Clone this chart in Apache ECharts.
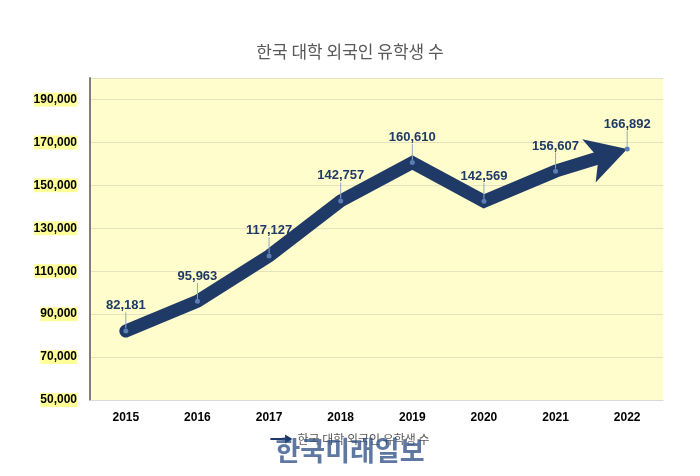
<!DOCTYPE html>
<html><head><meta charset="utf-8">
<script src="https://cdn.jsdelivr.net/npm/echarts@6/dist/echarts.min.js"></script>
<style>html,body{margin:0;padding:0;background:#fff}#c{width:700px;height:476px}</style>
</head><body><div id="c"></div>
<script>
const title = '한국 대학 외국인 유학생 수';
const years = ['2015','2016','2017','2018','2019','2020','2021','2022'];
const students = [82181, 95963, 117127, 142757, 160610, 142569, 156607, 166892];
const yMin = 50000, yMax = 200000, yStep = 20000;
const watermark = '한국미래일보';

const navy = '#1f3a66';
const chart = echarts.init(document.getElementById('c'));
const n = years.length;
const fmt = v => v.toLocaleString('en-US');
chart.setOption({
  animation: false,
  backgroundColor: '#ffffff',
  title: { text: title, left: 'center', top: 38, textStyle: { fontFamily: 'Noto Sans CJK KR', fontSize: 17, fontWeight: 'normal', color: '#595959' } },
  legend: { bottom: 26, left: 'center', itemWidth: 22, itemHeight: 10, icon: 'path://M0,4 L16,4 L16,0 L24,5 L16,10 L16,6 L0,6 Z',
    textStyle: { fontFamily: 'Noto Sans CJK KR', fontSize: 12, color: '#595959' }, data: [{ name: title, itemStyle: { color: navy } }] },
  grid: { left: 90, right: 37, top: 78, bottom: 76, show: true, backgroundColor: '#fffdcc', borderWidth: 0 },
  xAxis: { type: 'category', data: years, boundaryGap: true,
    axisLine: { show: true, lineStyle: { color: '#d9d9d9' } }, axisTick: { show: false },
    axisLabel: { color: '#000', fontWeight: 'bold', fontSize: 12, margin: 12, fontFamily: 'Liberation Sans' } },
  yAxis: { type: 'value', min: yMin, max: yMax, interval: yStep,
    axisLine: { show: true, lineStyle: { color: '#7f7f7f', width: 2 } }, axisTick: { show: false },
    splitLine: { lineStyle: { color: '#e6e2c0' } },
    axisLabel: { showMaxLabel: false, color: '#000', fontWeight: 'bold', fontSize: 12, margin: 13, fontFamily: 'Liberation Sans', backgroundColor: '#ffff99', padding: [1, 0, 1, 0],
      formatter: fmt } },
  series: [{
    name: title, type: 'line', data: students, symbol: 'circle', symbolSize: 5,
    itemStyle: { color: '#5b7fb5' },
    lineStyle: { color: navy, width: 13, cap: 'round', join: 'miter' },
    label: { show: true, position: 'top', distance: 16, color: navy, fontWeight: 'bold', fontSize: 13, fontFamily: 'Liberation Sans',
      formatter: p => fmt(p.value) },
    labelLine: { show: true, lineStyle: { color: '#8fa8cf', width: 1 } },
    z: 3
  }],
  graphic: [{ type: 'text', left: 'center', top: 437, z: 100,
    style: { text: watermark, font: 'bold 27px "Noto Sans CJK KR"', fill: 'rgba(40,75,130,0.75)' } }]
});

// arrow head at the last point, aligned with the last segment
const pA = chart.convertToPixel({ seriesIndex: 0 }, [n - 2, students[n - 2]]);
const pB = chart.convertToPixel({ seriesIndex: 0 }, [n - 1, students[n - 1]]);
const dx = pB[0] - pA[0], dy = pB[1] - pA[1];
const len = Math.sqrt(dx * dx + dy * dy);
const ux = dx / len, uy = dy / len;
const L = 40, W = 34;
const rot = -Math.atan2(ux, -uy) * 180 / Math.PI;
const cutX = pB[0] - ux * L * 0.6;
const c = cutX / 700;
chart.setOption({
  series: [{
    lineStyle: { color: new echarts.graphic.LinearGradient(0, 0, 700, 0, [
      { offset: 0, color: navy }, { offset: c, color: navy },
      { offset: c, color: 'rgba(31,58,102,0)' }, { offset: 1, color: 'rgba(31,58,102,0)' }], true) }
  }, {
    type: 'scatter', silent: true, z: 2,
    data: [[years[n - 1], students[n - 1]]],
    symbol: 'arrow', symbolSize: [W, L], symbolRotate: rot,
    itemStyle: { color: navy, opacity: 1 }
  }]
});
</script></body></html>
